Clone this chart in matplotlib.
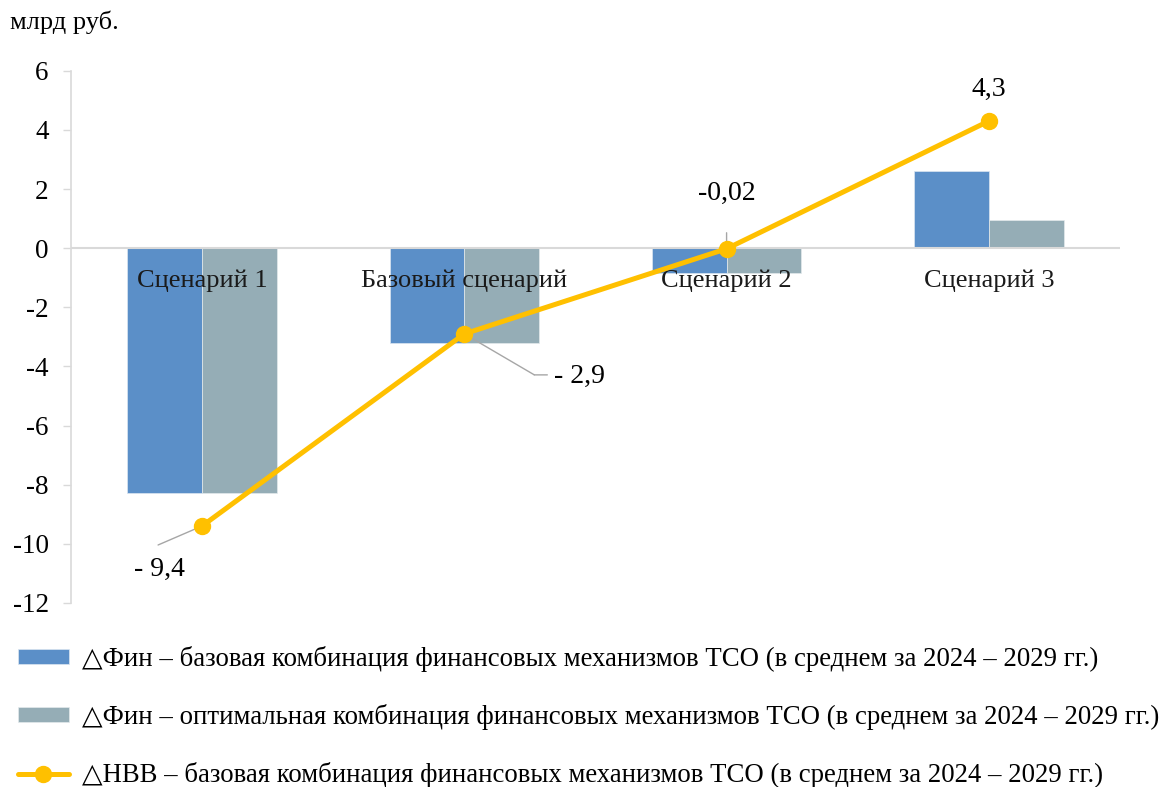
import matplotlib
matplotlib.use("Agg")
import matplotlib.pyplot as plt
import numpy as np
from matplotlib.transforms import offset_copy

plt.rcParams['font.family'] = ['Liberation Serif', 'DejaVu Sans']

categories = ['Сценарий 1', 'Базовый сценарий', 'Сценарий 2', 'Сценарий 3']
fin_base = [-8.3, -3.2, -0.85, 2.6]
fin_opt = [-8.3, -3.2, -0.85, 0.95]
nvv_base = [-9.4, -2.9, -0.02, 4.3]
nvv_labels = ['- 9,4', '- 2,9', '-0,02', '4,3']

legend_labels = [
    '△Фин – базовая комбинация финансовых механизмов ТСО (в среднем за 2024 – 2029 гг.)',
    '△Фин – оптимальная комбинация финансовых механизмов ТСО (в среднем за 2024 – 2029 гг.)',
    '△НВВ – базовая комбинация финансовых механизмов ТСО (в среднем за 2024 – 2029 гг.)',
]

blue = '#5B8FC8'
grey = '#95ADB6'
gold = '#FFC000'
axis_grey = '#D9D9D9'
leader = '#A6A6A6'

fig = plt.figure(figsize=(11.63, 7.87), dpi=100)
ax = fig.add_axes([0.061, 0.234, 0.902, 0.676])

x = np.arange(len(categories))
w = 0.285
b1 = ax.bar(x - w / 2, fin_base, w, color=blue, edgecolor='#DCE6F0', linewidth=0.5, zorder=2)
b2 = ax.bar(x + w / 2, fin_opt, w, color=grey, edgecolor='#E4EAEC', linewidth=0.5, zorder=2)
ax.axhline(0, color=axis_grey, linewidth=1.5, zorder=3)
ln, = ax.plot(x, nvv_base, color=gold, linewidth=3.6, marker='o', markersize=11.5,
              zorder=5, solid_capstyle='round')

ax.set_xlim(-0.5, 3.5)
ax.set_ylim(-12, 6)
ax.set_yticks(range(-12, 7, 2))
ax.set_yticklabels([str(v) for v in range(-12, 7, 2)], fontsize=19.5)
ax.set_xticks([])
for s in ['top', 'right', 'bottom']:
    ax.spines[s].set_visible(False)
ax.spines['left'].set_color(axis_grey)
ax.spines['left'].set_linewidth(1.2)
ax.tick_params(axis='y', direction='out', length=6, width=1, color=axis_grey, pad=10)

# category labels just below the zero line
for i, c in enumerate(categories):
    ax.annotate(c, xy=(i, 0), xytext=(0, -33), textcoords='offset pixels',
                ha='center', va='center', fontsize=19, color='#1a1a1a', zorder=4)

lp = dict(arrowstyle='-', color=leader, linewidth=1.0, shrinkA=0, shrinkB=0)

# -9,4
ax.annotate('', xy=(0, nvv_base[0]), xytext=(-44, -19), textcoords='offset pixels', arrowprops=lp, zorder=4)
ax.annotate(nvv_labels[0], xy=(0, nvv_base[0]), xytext=(-43, -43), textcoords='offset pixels',
            ha='center', va='center', fontsize=20)
# -2,9
ax.annotate('', xy=(1, nvv_base[1]), xytext=(70, -41), textcoords='offset pixels', arrowprops=lp, zorder=4)
ax.annotate('', xy=(1, nvv_base[1]), xycoords=offset_copy(ax.transData, fig=fig, x=70, y=-41, units='dots'),
            xytext=(13, 0), textcoords='offset pixels', arrowprops=lp, zorder=4)
ax.annotate(nvv_labels[1], xy=(1, nvv_base[1]), xytext=(90, -43), textcoords='offset pixels',
            ha='left', va='center', fontsize=20)
# -0,02
ax.annotate('', xy=(2, nvv_base[2]), xytext=(0, 16), textcoords='offset pixels', arrowprops=lp, zorder=4)
ax.annotate(nvv_labels[2], xy=(2, nvv_base[2]), xytext=(0, 55), textcoords='offset pixels',
            ha='center', va='center', fontsize=20)
# 4,3
ax.annotate(nvv_labels[3], xy=(3, nvv_base[3]), xytext=(0, 32), textcoords='offset pixels',
            ha='center', va='center', fontsize=20)

fig.text(10 / 1163, 1 - 22 / 787, 'млрд руб.', fontsize=19, ha='left', va='center')

fig.legend([b1, b2, ln], legend_labels, loc='upper left',
           bbox_to_anchor=(18 / 1163, 1 - 646 / 787), frameon=False, fontsize=19.3,
           handlelength=1.9, handletextpad=0.5, labelspacing=1.2, borderpad=0,
           borderaxespad=0, handleheight=0.45)

fig.savefig('out.png', dpi=100)
